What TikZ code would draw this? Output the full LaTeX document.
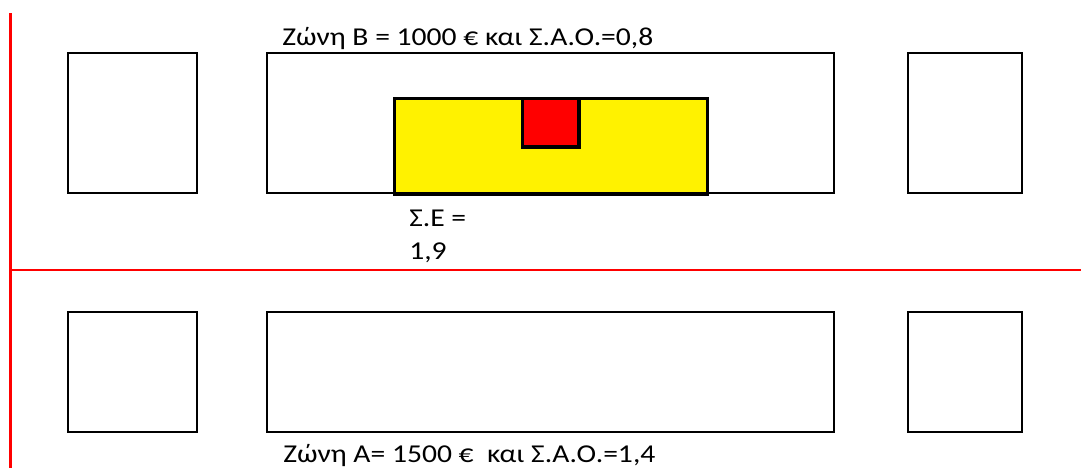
\documentclass[tikz,border=0pt]{standalone}
\usepackage{fontspec}
\setmainfont{Carlito}[FakeStretch=1.15]
\begin{document}
\begin{tikzpicture}[x=0.75pt,y=-0.75pt,
  plot/.style={draw=black,line width=1.5pt,fill=white},
  redline/.style={draw=red,line width=2.2pt},
  lbl/.style={anchor=base west,inner sep=0pt,font=\fontsize{19.3}{22}\selectfont}]
\useasboundingbox (0,0) rectangle (1081,468);
% red lines
\coordinate (vtop) at (10.5,13);
\coordinate (vbot) at (10.5,468);
\coordinate (hl) at (10.5,270);
\coordinate (hr) at (1081,270);
\draw[redline] (vtop) -- (vbot);
\draw[redline] (hl) -- (hr);
% top row
\draw[plot] (68,53) rectangle (197,193);
\draw[plot] (267,53) rectangle (834,193);
\draw[plot] (908,53) rectangle (1022,193);
% yellow and red
\draw[draw=black,line width=2.6pt,fill=yellow] (394.5,98.5) rectangle (707.5,194);
\draw[draw=black,line width=2.6pt,fill=red] (522.5,98.5) rectangle (579,147);
% bottom row
\draw[plot] (68,312) rectangle (197,432);
\draw[plot] (267,312) rectangle (834,432);
\draw[plot] (908,312) rectangle (1022,432);
% labels
\node[lbl] (tB) at (282,45) {Ζώνη Β = 1000 € και Σ.Α.Ο.=0,8};
\node[lbl] (tE1) at (409,226) {Σ.Ε =};
\node[lbl] (tE2) at (409,259) {1,9};
\node[lbl] (tA) at (283,462) {Ζώνη Α= 1500 €\ \ και Σ.Α.Ο.=1,4};
\end{tikzpicture}
\end{document}
